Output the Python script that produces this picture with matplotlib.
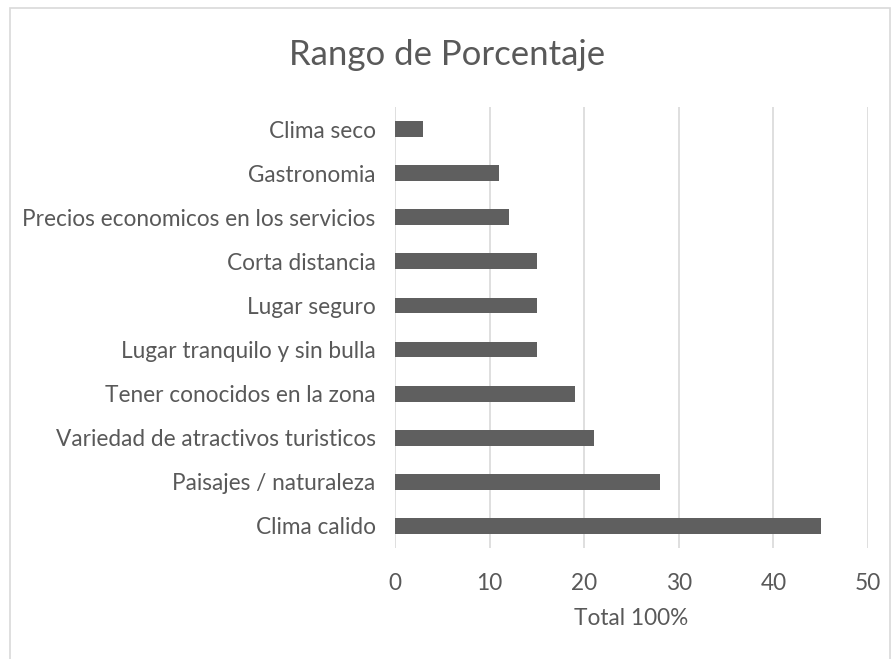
import matplotlib
matplotlib.use("Agg")
import matplotlib.pyplot as plt
from matplotlib.patches import Rectangle

categories = ["Clima calido", "Paisajes / naturaleza", "Variedad de atractivos turisticos",
              "Tener conocidos en la zona", "Lugar tranquilo y sin bulla", "Lugar seguro",
              "Corta distancia", "Precios economicos en los servicios", "Gastronomia", "Clima seco"]
values = [45, 28, 21, 19, 15, 15, 15, 12, 11, 3]
xticks = [0, 10, 20, 30, 40, 50]
title = "Rango de Porcentaje"
xlabel = "Total 100%"

plt.rcParams['font.family'] = ['Lato', 'DejaVu Sans']
txt = '#595959'

fig = plt.figure(figsize=(8.95, 6.59), dpi=100)
fig.patches.append(Rectangle((10/895, -0.1), 880/895, 1 - 8/659 + 0.1, transform=fig.transFigure,
                             fill=False, edgecolor='#d9d9d9', linewidth=1.2))
ax = fig.add_axes([395/895, 1 - 548/659, (868-395)/895, (548-107)/659])
y = list(range(len(categories)))
ax.barh(y, values, height=0.36, color='#5f5f5f', zorder=3)
ax.set_xlim(0, 50)
ax.set_ylim(-0.5, len(categories) - 0.5)
ax.set_xticks(xticks)
ax.set_yticks(y)
ax.set_yticklabels(categories)
ax.grid(axis='x', color='#d9d9d9', linewidth=1.2, zorder=0)
for s in ax.spines.values():
    s.set_visible(False)
ax.tick_params(axis='both', length=0, colors=txt, labelsize=16.3)
ax.tick_params(axis='y', pad=14)
ax.tick_params(axis='x', pad=18)
ax.set_xlabel(xlabel, color=txt, fontsize=16.3, labelpad=10)
fig.text(0.5, 1 - 55/659, title, ha='center', va='center', fontsize=25, color=txt)
fig.savefig('out.png', dpi=100)
